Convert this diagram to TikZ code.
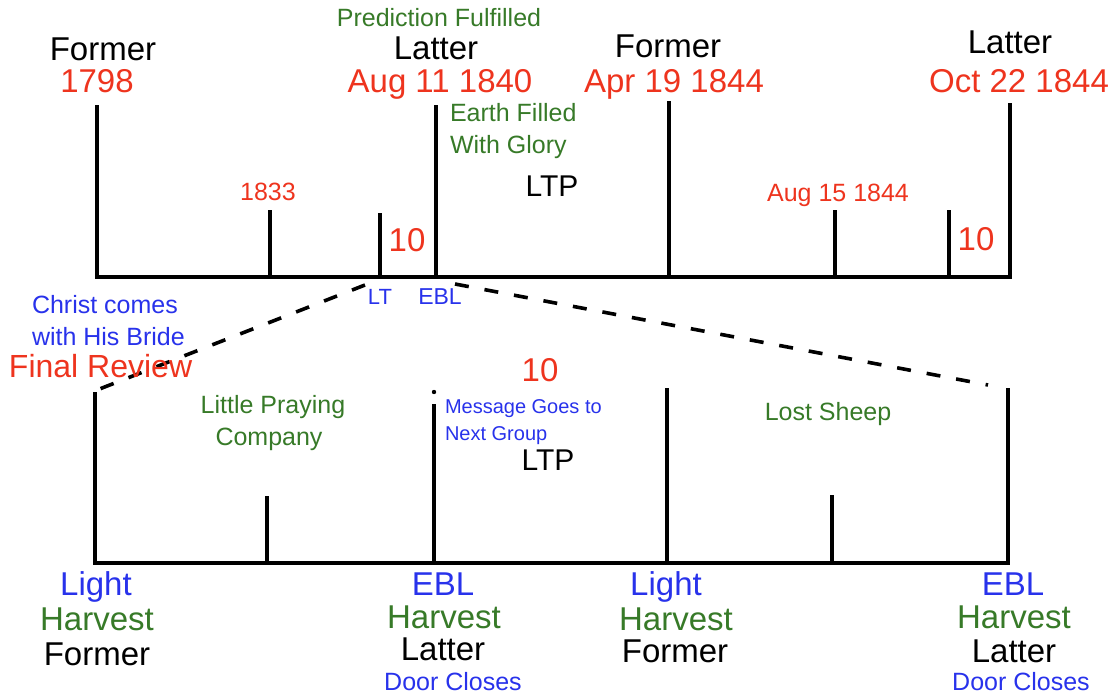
\documentclass[tikz,border=0pt]{standalone}
\usepackage{fontspec}
\setmainfont{Liberation Sans}
\definecolor{tred}{RGB}{238,52,30}
\definecolor{tgreen}{RGB}{55,122,40}
\definecolor{tblue}{RGB}{40,50,235}
\tikzset{
  lbl/.style={anchor=base, inner sep=0pt, outer sep=0pt},
  lblw/.style={anchor=base west, inner sep=0pt, outer sep=0pt},
  big/.style={font=\fontsize{33}{38}\selectfont},
  mid/.style={font=\fontsize{25}{30}\selectfont},
  sml/.style={font=\fontsize{20}{24}\selectfont},
  ltp/.style={font=\fontsize{30}{36}\selectfont},
  bar/.style={line width=3.6pt},
  zoomline/.style={line width=3.6pt, dash pattern=on 14pt off 16pt},
}
\begin{document}
\begin{tikzpicture}[x=1pt,y=-1pt]
\useasboundingbox (0,0) rectangle (1115,700);
% ---------- top timeline ----------
\coordinate (tA) at (97,277);
\coordinate (tB) at (1010,277);
\draw[bar] (95,277) -- (1012,277);
\draw[bar] (97,277) -- (97,105);
\draw[bar] (270,277) -- (270,210);
\draw[bar] (380,277) -- (380,213);
\draw[bar] (436,277) -- (436,105);
\draw[bar] (669,277) -- (669,101);
\draw[bar] (835,277) -- (835,210);
\draw[bar] (949,277) -- (949,210);
\draw[bar] (1010,277) -- (1010,103);
% top labels
\node[lbl,big] (f1) at (103,61) {Former};
\node[lbl,big,text=tred] (d1) at (97,93) {1798};
\node[lbl,mid,text=tgreen] (pf) at (439,27) {Prediction Fulfilled};
\node[lbl,big] (l1) at (436,60) {Latter};
\node[lbl,big,text=tred] (d2) at (440,93) {Aug 11 1840};
\node[lblw,mid,text=tgreen] (ef1) at (450,122) {Earth Filled};
\node[lblw,mid,text=tgreen] (ef2) at (450,154) {With Glory};
\node[lbl,ltp] (ltp1) at (552,197) {LTP};
\node[lbl,mid,text=tred] (d3) at (268,201) {1833};
\node[lbl,big,text=tred] (ten1) at (407,252) {10};
\node[lbl,big] (f2) at (668,58) {Former};
\node[lbl,big,text=tred] (d4) at (674,93) {Apr 19 1844};
\node[lbl,big] (l2) at (1010,54) {Latter};
\node[lbl,big,text=tred] (d5) at (1019,93) {Oct 22 1844};
\node[lbl,mid,text=tred] (d6) at (838,202) {Aug 15 1844};
\node[lbl,big,text=tred] (ten2) at (976,251) {10};
\node[lbl,font=\fontsize{22}{26}\selectfont,text=tblue] (lt) at (380,305) {LT};
\node[lbl,font=\fontsize{23}{27}\selectfont,text=tblue] (ebl) at (440,305) {EBL};
% ---------- bottom timeline ----------
\draw[bar] (93,563) -- (1010,563);
\draw[bar] (95,563) -- (95,392);
\draw[bar] (267,563) -- (267,496);
\draw[bar] (434,563) -- (434,404);
\fill (434,392) circle (2.2pt);
\draw[bar] (667,563) -- (667,388);
\draw[bar] (832,563) -- (832,495);
\draw[bar] (1008,563) -- (1008,388);
% zoom connectors
\coordinate (zl1) at (365,285);
\coordinate (zl2) at (97,390);
\coordinate (zr1) at (455,284);
\coordinate (zr2) at (988,385);
\draw[zoomline] (zl1) -- (zl2);
\draw[zoomline] (zr1) -- (zr2);
% bottom labels
\node[lblw,mid,text=tblue] (cc1) at (32,313) {Christ comes};
\node[lblw,mid,text=tblue] (cc2) at (32,345) {with His Bride};
\node[lblw,font=\fontsize{32}{38}\selectfont,text=tred] (fr) at (9,377) {Final Review};
\node[lbl,mid,text=tgreen] (lp1) at (273,413) {Little Praying};
\node[lbl,mid,text=tgreen] (lp2) at (269,445) {Company};
\node[lbl,big,text=tred] (ten3) at (540,381) {10};
\node[lblw,sml,text=tblue] (mg1) at (445,413) {Message Goes to};
\node[lblw,sml,text=tblue] (mg2) at (445,440) {Next Group};
\node[lbl,ltp] (ltp2) at (548,470) {LTP};
\node[lbl,mid,text=tgreen] (ls) at (828,420) {Lost Sheep};
\node[lbl,big,text=tblue] (b1a) at (96,595) {Light};
\node[lbl,big,text=tgreen] (b1b) at (97,630) {Harvest};
\node[lbl,big] (b1c) at (97,665) {Former};
\node[lbl,big,text=tblue] (b2a) at (443,595) {EBL};
\node[lbl,big,text=tgreen] (b2b) at (444,628) {Harvest};
\node[lbl,big] (b2c) at (443,660) {Latter};
\node[lbl,mid,text=tblue] (b2d) at (453,690) {Door Closes};
\node[lbl,big,text=tblue] (b3a) at (666,595) {Light};
\node[lbl,big,text=tgreen] (b3b) at (676,630) {Harvest};
\node[lbl,big] (b3c) at (675,662) {Former};
\node[lbl,big,text=tblue] (b4a) at (1013,595) {EBL};
\node[lbl,big,text=tgreen] (b4b) at (1014,628) {Harvest};
\node[lbl,big] (b4c) at (1014,662) {Latter};
\node[lbl,mid,text=tblue] (b4d) at (1021,690) {Door Closes};
\end{tikzpicture}
\end{document}
